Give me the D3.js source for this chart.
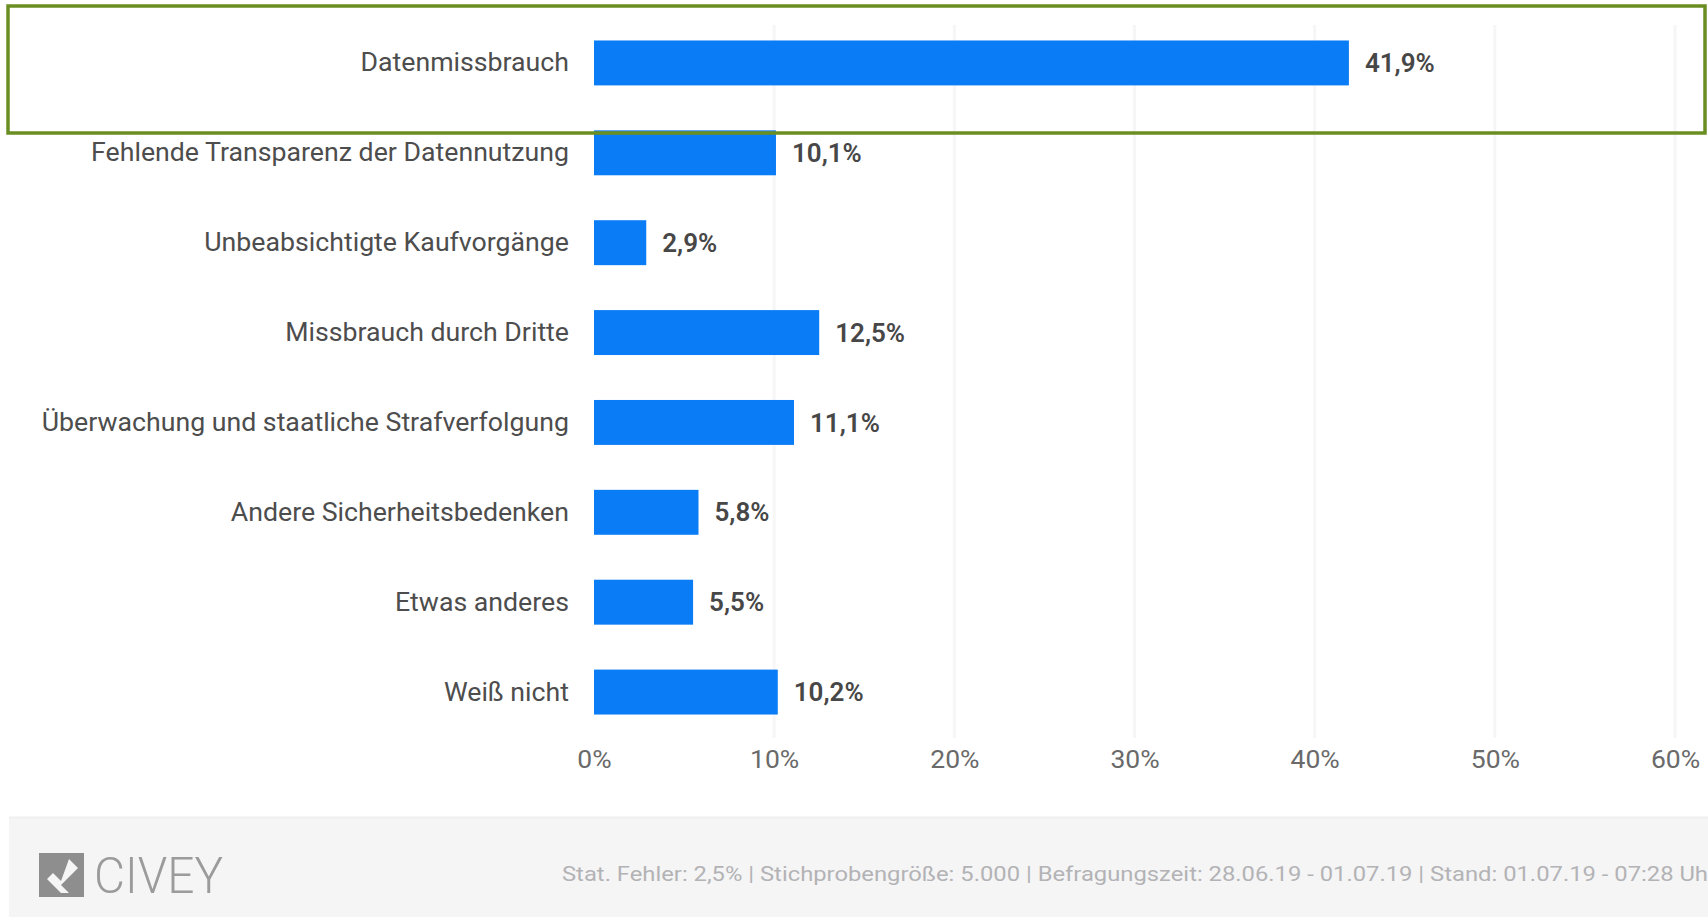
<!DOCTYPE html>
<html>
<head>
<meta charset="utf-8">
<script src="https://cdn.jsdelivr.net/npm/d3@7"></script>
<style>
  body { margin: 0; background: #fff; }
  svg { display: block; font-family: Roboto, "Noto Sans", sans-serif; }
</style>
</head>
<body>
<div id="chart"></div>
<script>
var categories = [
    "Datenmissbrauch",
    "Fehlende Transparenz der Datennutzung",
    "Unbeabsichtigte Kaufvorgänge",
    "Missbrauch durch Dritte",
    "Überwachung und staatliche Strafverfolgung",
    "Andere Sicherheitsbedenken",
    "Etwas anderes",
    "Weiß nicht"
];
var values = [41.9, 10.1, 2.9, 12.5, 11.1, 5.8, 5.5, 10.2];
var ticks = [0, 10, 20, 30, 40, 50, 60];
var footerText = "Stat. Fehler: 2,5% | Stichprobengröße: 5.000 | Befragungszeit: 28.06.19 - 01.07.19 | Stand: 01.07.19 - 07:28 Uhr";

var width = 1708;
var height = 917;

var svg = d3.select("#chart").append("svg")
    .attr("width", width)
    .attr("height", height);

var x = d3.scaleLinear().domain([0, 60]).range([594, 1675]);
var y = d3.scaleBand().domain(categories).range([18, 737])
    .paddingInner(0.5).paddingOuter(0.25);

// grid lines
svg.append("g").selectAll("line")
    .data(ticks.slice(1))
    .enter().append("line")
    .attr("x1", function (d) { return x(d); })
    .attr("x2", function (d) { return x(d); })
    .attr("y1", 25)
    .attr("y2", 738)
    .attr("stroke", "#f6f6f7")
    .attr("stroke-width", 3);

// bars
svg.append("g").selectAll("rect")
    .data(values)
    .enter().append("rect")
    .attr("x", x(0))
    .attr("y", function (d, i) { return y(categories[i]); })
    .attr("width", function (d) { return x(d) - x(0); })
    .attr("height", y.bandwidth())
    .attr("fill", "#0a7cf6");

// value labels
svg.append("g").selectAll("text")
    .data(values)
    .enter().append("text")
    .attr("x", function (d) { return x(d) + 16; })
    .attr("y", function (d, i) { return y(categories[i]) + y.bandwidth() / 2; })
    .attr("dy", "0.35em")
    .attr("font-size", 26)
    .attr("font-weight", 600)
    .attr("fill", "#474747")
    .text(function (d) { return d3.format(".1f")(d).replace(".", ",") + "%"; });

// category labels
var yAxis = svg.append("g")
    .attr("transform", "translate(" + x(0) + ",0)")
    .call(d3.axisLeft(y).tickSize(0).tickPadding(25));
yAxis.select(".domain").remove();
yAxis.selectAll("text")
    .attr("font-size", 26.7)
    .attr("font-family", "Roboto, sans-serif")
    .attr("fill", "#4d4d4d");

// x axis
var xAxis = svg.append("g")
    .attr("transform", "translate(0,746)")
    .call(d3.axisBottom(x).tickValues(ticks).tickSize(0)
        .tickFormat(function (d) { return d + "%"; }));
xAxis.select(".domain").remove();
xAxis.selectAll("text")
    .attr("font-size", 26.5)
    .attr("font-family", "Roboto, sans-serif")
    .attr("fill", "#6a6a6a");

// footer
svg.append("rect")
    .attr("x", 9).attr("y", 817)
    .attr("width", width - 9).attr("height", height - 817)
    .attr("fill", "#f5f5f6");
svg.append("line")
    .attr("x1", 9).attr("x2", width)
    .attr("y1", 817.5).attr("y2", 817.5)
    .attr("stroke", "#efefef").attr("stroke-width", 2);

// logo
var logo = svg.append("g").attr("transform", "translate(39,853)");
logo.append("rect").attr("width", 45).attr("height", 44).attr("fill", "#8e8e8e");
logo.append("path")
    .attr("d", "M30,6 L39,15 L22,32 L30,40 L22,40 L8,26 L14,20 L22,28 Z")
    .attr("fill", "#f5f5f6");
svg.append("text")
    .attr("x", 94).attr("y", 893)
    .attr("font-size", 50)
    .attr("font-weight", 300)
    .attr("fill", "#9b9b9b")
    .attr("textLength", 129)
    .attr("lengthAdjust", "spacingAndGlyphs")
    .text("CIVEY");

svg.append("text")
    .attr("x", 562).attr("y", 874)
    .attr("dy", "0.35em")
    .attr("font-size", 21)
    .attr("fill", "#b3b3b5")
    .attr("textLength", 1154)
    .attr("lengthAdjust", "spacingAndGlyphs")
    .text(footerText);

// highlight frame
svg.append("rect")
    .attr("x", 8).attr("y", 6)
    .attr("width", 1697).attr("height", 127)
    .attr("fill", "none")
    .attr("stroke", "#6b8e23")
    .attr("stroke-width", 3.5);
</script>
</body>
</html>
